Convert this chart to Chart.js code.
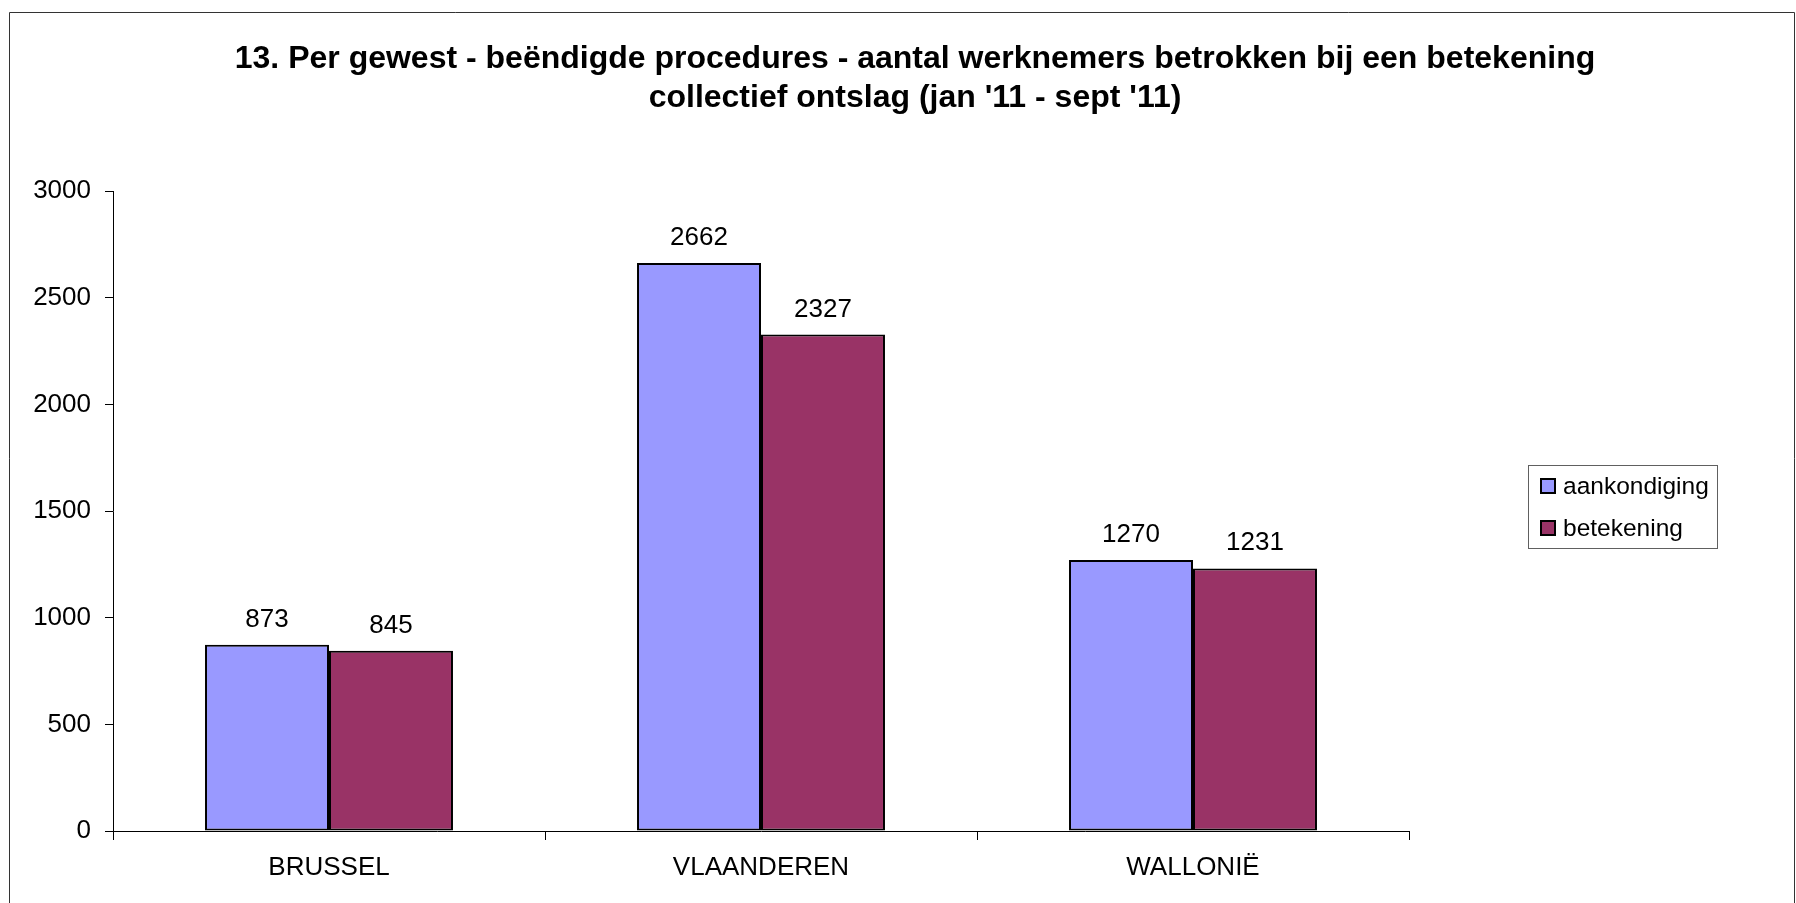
<!DOCTYPE html>
<html>
<head>
<meta charset="utf-8">
<title>Per gewest - beëndigde procedures</title>
<script src="https://cdn.jsdelivr.net/npm/chart.js@4.4.1/dist/chart.umd.min.js"></script>
<style>
    html, body { margin: 0; padding: 0; background: #fff; }
    canvas { display: block; }
</style>
</head>
<body>
<canvas id="gewestChart" width="1796" height="903"></canvas>
<script>
// Data
const categories = ['BRUSSEL', 'VLAANDEREN', 'WALLONIË'];
const seriesNames = ['aankondiging', 'betekening'];
const aankondiging = [873, 2662, 1270];
const betekening = [845, 2327, 1231];
const yTicks = [0, 500, 1000, 1500, 2000, 2500, 3000];
const titleLines = [
    "13. Per gewest - beëndigde procedures - aantal werknemers betrokken bij een betekening",
    "collectief ontslag (jan '11 - sept '11)"
];

const FONT = "'Liberation Sans', Arial, sans-serif";
const seriesColors = ['#9999FF', '#993366'];

// Outer frame + title (drawn on the canvas, Excel style)
const frameAndTitle = {
    id: 'frameAndTitle',
    beforeDraw(chart) {
        const ctx = chart.ctx;
        ctx.save();
        ctx.fillStyle = '#fff';
        ctx.fillRect(0, 0, chart.width, chart.height);
        ctx.strokeStyle = '#333';
        ctx.lineWidth = 1;
        ctx.beginPath();
        ctx.moveTo(9.5, chart.height + 5);
        ctx.lineTo(9.5, 12.5);
        ctx.lineTo(1794.5, 12.5);
        ctx.lineTo(1794.5, chart.height + 5);
        ctx.stroke();
        ctx.restore();
    },
    afterDraw(chart) {
        const ctx = chart.ctx;
        ctx.save();
        ctx.fillStyle = '#000';
        ctx.font = 'bold 32px ' + FONT;
        ctx.textAlign = 'center';
        ctx.textBaseline = 'alphabetic';
        titleLines.forEach((line, i) => {
            ctx.fillText(line, 915, 68 + i * 39);
        });
        ctx.restore();
    }
};

// Value labels above each bar
const valueLabels = {
    id: 'valueLabels',
    afterDatasetsDraw(chart) {
        const ctx = chart.ctx;
        ctx.save();
        ctx.fillStyle = '#000';
        ctx.font = '26px ' + FONT;
        ctx.textAlign = 'center';
        ctx.textBaseline = 'alphabetic';
        chart.data.datasets.forEach((ds, i) => {
            chart.getDatasetMeta(i).data.forEach((bar, j) => {
                ctx.fillText(ds.data[j], bar.x, bar.y - 18);
            });
        });
        ctx.restore();
    }
};

// Boxed legend on the right
const boxLegend = {
    id: 'boxLegend',
    afterDraw(chart) {
        const ctx = chart.ctx;
        ctx.save();
        ctx.strokeStyle = '#606060';
        ctx.lineWidth = 1;
        ctx.strokeRect(1528.5, 465.5, 189, 83);
        ctx.font = '24.5px ' + FONT;
        ctx.textAlign = 'left';
        ctx.textBaseline = 'alphabetic';
        chart.data.datasets.forEach((ds, i) => {
            const top = 479 + i * 42;
            ctx.fillStyle = ds.backgroundColor;
            ctx.fillRect(1541, top, 14, 14);
            ctx.strokeStyle = '#000';
            ctx.lineWidth = 2;
            ctx.strokeRect(1541, top, 14, 14);
            ctx.fillStyle = '#000';
            ctx.fillText(ds.label, 1563, top + 15);
        });
        ctx.restore();
    }
};

const ctx = document.getElementById('gewestChart').getContext('2d');

const gewestChart = new Chart(ctx, {
    type: 'bar',
    data: {
        labels: categories,
        datasets: [
            {
                label: seriesNames[0],
                data: aankondiging,
                backgroundColor: seriesColors[0],
                borderColor: '#000',
                borderWidth: 2,
                borderSkipped: false
            },
            {
                label: seriesNames[1],
                data: betekening,
                backgroundColor: seriesColors[1],
                borderColor: '#000',
                borderWidth: 2,
                borderSkipped: false
            }
        ]
    },
    options: {
        responsive: false,
        animation: false,
        devicePixelRatio: 1,
        layout: {
            padding: { left: 0, right: 387, top: 191, bottom: 0 }
        },
        datasets: {
            bar: {
                categoryPercentage: 0.574,
                barPercentage: 1
            }
        },
        scales: {
            x: {
                offset: true,
                grid: {
                    display: true,
                    drawOnChartArea: false,
                    drawTicks: true,
                    tickLength: 9,
                    color: '#000',
                    offset: true
                },
                border: { display: true, color: '#000', width: 1 },
                ticks: {
                    color: '#000',
                    font: { family: FONT, size: 26 },
                    padding: 12
                },
                afterFit: scale => { scale.height = 72; }
            },
            y: {
                min: 0,
                max: 3000,
                afterBuildTicks: scale => {
                    scale.ticks = yTicks.map(v => ({ value: v }));
                },
                grid: {
                    display: true,
                    drawOnChartArea: false,
                    drawTicks: true,
                    tickLength: 8,
                    color: '#000'
                },
                border: { display: true, color: '#000', width: 1 },
                ticks: {
                    color: '#000',
                    font: { family: FONT, size: 26 },
                    padding: 14,
                    callback: value => String(value) // no thousands separator
                },
                afterFit: scale => { scale.width = 113; }
            }
        },
        plugins: {
            legend: { display: false },
            title: { display: false },
            tooltip: { enabled: false }
        }
    },
    plugins: [frameAndTitle, valueLabels, boxLegend]
});
</script>
</body>
</html>
